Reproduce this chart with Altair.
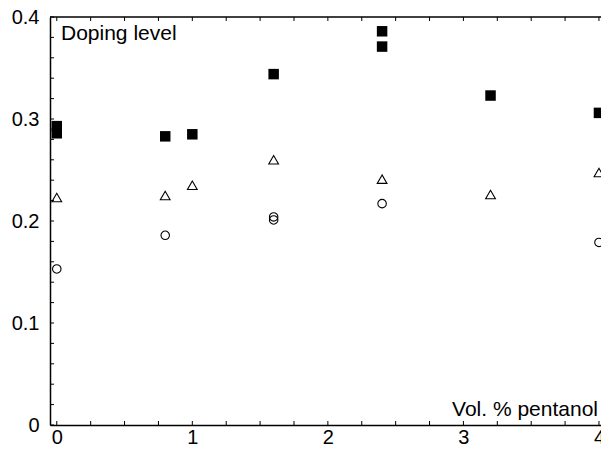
import altair as alt
import pandas as pd

# Data
sq_x = [0.0, 0.0, 0.8, 1.0, 1.6, 2.4, 2.4, 3.2, 4.0]
sq_y = [0.293, 0.286, 0.283, 0.285, 0.344, 0.386, 0.371, 0.323, 0.306]
tri_x = [0.0, 0.8, 1.0, 1.6, 2.4, 3.2, 4.0]
tri_y = [0.223, 0.225, 0.235, 0.260, 0.241, 0.226, 0.2475]
circ_x = [0.0, 0.8, 1.6, 1.6, 2.4, 4.0]
circ_y = [0.153, 0.186, 0.204, 0.201, 0.217, 0.179]

x_labels = [0, 1, 2, 3, 4]
y_labels = [0.0, 0.1, 0.2, 0.3, 0.4]
x_minor = [i * 0.25 for i in range(17)]
y_minor = [i * 0.02 for i in range(21)]

W, H = 551, 408
FONT = "Liberation Sans"

xs = alt.Scale(domain=[-0.05, 4.015], nice=False, zero=False)
ys = alt.Scale(domain=[0, 0.4], nice=False, zero=False)

xax = alt.Axis(values=x_labels, format="d", ticks=False, tickSize=0, grid=False, domain=True,
               domainColor="black", domainWidth=1.5, labelFontSize=20, labelFont=FONT,
               labelColor="black", labelPadding=2, labelFlush=False, title=None)
yax = alt.Axis(values=y_labels, format="~g", ticks=False, tickSize=0, grid=False, domain=True,
               domainColor="black", domainWidth=1.5, labelFontSize=20, labelFont=FONT,
               labelColor="black", labelPadding=11, labelFlush=False, title=None)

sq = pd.DataFrame({"x": sq_x, "y": sq_y})
tri = pd.DataFrame({"x": tri_x, "y": tri_y})
circ = pd.DataFrame({"x": circ_x, "y": circ_y})

squares = alt.Chart(sq).mark_point(shape="square", filled=True, color="black",
                                   size=110, opacity=1).encode(
    x=alt.X("x:Q", scale=xs, axis=xax),
    y=alt.Y("y:Q", scale=ys, axis=yax),
)
triangles = alt.Chart(tri).mark_point(shape="triangle-up", filled=False, color="black",
                                      size=95, strokeWidth=1.1, opacity=1).encode(
    x=alt.X("x:Q", scale=xs), y=alt.Y("y:Q", scale=ys))
circles = alt.Chart(circ).mark_point(shape="circle", filled=False, color="black",
                                     size=72, strokeWidth=1.1, opacity=1).encode(
    x=alt.X("x:Q", scale=xs), y=alt.Y("y:Q", scale=ys))

xt = pd.DataFrame({"x": x_minor})
yt = pd.DataFrame({"y": y_minor})
bottom_ticks = alt.Chart(xt).mark_rule(color="black", strokeWidth=1).encode(
    x=alt.X("x:Q", scale=xs), y=alt.value(H), y2=alt.value(H - 4))
top_ticks = alt.Chart(xt).mark_rule(color="black", strokeWidth=1).encode(
    x=alt.X("x:Q", scale=xs), y=alt.value(0), y2=alt.value(4))
left_ticks = alt.Chart(yt).mark_rule(color="black", strokeWidth=1).encode(
    y=alt.Y("y:Q", scale=ys), x=alt.value(0), x2=alt.value(4))
top_line = alt.Chart(pd.DataFrame({"a": [0]})).mark_rule(color="black", strokeWidth=1.5).encode(
    x=alt.value(0), x2=alt.value(W), y=alt.value(0))

t1 = alt.Chart(pd.DataFrame({"t": ["Doping level"]})).mark_text(
    align="left", baseline="alphabetic", fontSize=21, font=FONT, color="black").encode(
    text="t:N", x=alt.value(11), y=alt.value(23))
t2 = alt.Chart(pd.DataFrame({"t": ["Vol. % pentanol"]})).mark_text(
    align="right", baseline="alphabetic", fontSize=21, font=FONT, color="black").encode(
    text="t:N", x=alt.value(548), y=alt.value(399))

chart = alt.layer(top_line, bottom_ticks, top_ticks, left_ticks, triangles, circles, squares,
                  t1, t2).properties(
    width=W, height=H,
    autosize=alt.AutoSizeParams(type="none"),
    padding={"left": 42, "top": 9, "right": 0, "bottom": 21},
).configure_view(strokeWidth=0)

chart.save("out.html", embed_options={"renderer": "svg", "actions": False})
